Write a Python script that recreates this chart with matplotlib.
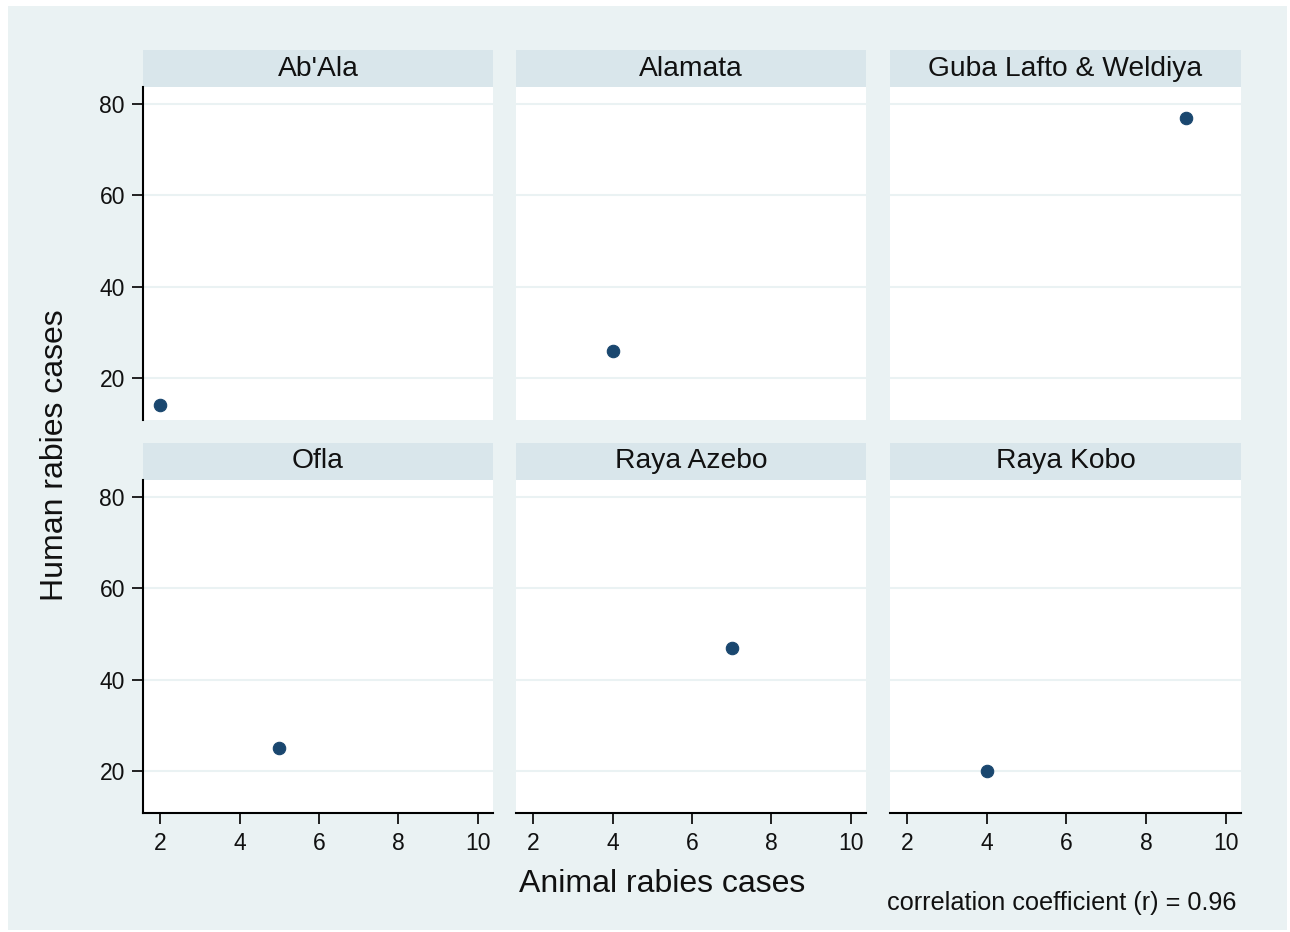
#!/usr/bin/env python3
"""Human vs animal rabies cases by district, Stata-style small multiples."""

import matplotlib
matplotlib.use("Agg")
import matplotlib.pyplot as plt
from matplotlib.patches import Rectangle

DISTRICTS = ["Ab'Ala", "Alamata", "Guba Lafto & Weldiya", "Ofla", "Raya Azebo", "Raya Kobo"]
ANIMAL_CASES = [2, 4, 9, 5, 7, 4]
HUMAN_CASES = [14, 26, 77, 25, 47, 20]
X_TICKS = [2, 4, 6, 8, 10]
Y_TICKS = [20, 40, 60, 80]

BG = "#EAF2F3"
STRIP = "#D9E6EB"
MARKER = "#1A476F"

W, H = 1290, 932
plt.rcParams.update({
    "font.family": ["Liberation Sans", "DejaVu Sans"],
    "xtick.labelsize": 16.5, "ytick.labelsize": 16.5,
    "xtick.major.size": 8, "ytick.major.size": 8,
    "xtick.major.width": 1.3, "ytick.major.width": 1.3,
    "xtick.color": "#111111", "ytick.color": "#111111",
})

fig = plt.figure(figsize=(W / 100, H / 100), dpi=100, facecolor="white")
fig.patches.append(Rectangle((8 / W, 1 - 930 / H), (1287 - 8) / W, (930 - 6) / H,
                             transform=fig.transFigure, facecolor=BG, edgecolor="none", zorder=-2))

cols = [(143, 493), (516, 866), (890, 1241)]
rows = [(50, 87, 420), (443, 480, 813)]

for i, name in enumerate(DISTRICTS):
    r, c = divmod(i, 3)
    x0, x1 = cols[c]
    strip_top, plot_top, plot_bot = rows[r]
    # strip header
    fig.patches.append(Rectangle((x0 / W, 1 - plot_top / H), (x1 - x0) / W, (plot_top - strip_top) / H,
                                 transform=fig.transFigure, facecolor=STRIP, edgecolor="none", zorder=-1))
    fig.text((x0 + x1) / 2 / W, 1 - (strip_top + plot_top) / 2 / H, name, ha="center", va="center",
             fontsize=20.3, color="#111111")
    ax = fig.add_axes([x0 / W, 1 - plot_bot / H, (x1 - x0) / W, (plot_bot - plot_top) / H], zorder=2)
    ax.set_facecolor("white")
    ax.set_xlim(1.57, 10.38)
    ax.set_ylim(10.8, 83.7)
    ax.set_yticks(Y_TICKS)
    ax.set_xticks(X_TICKS)
    ax.grid(axis="y", color=BG, linewidth=1.5)
    ax.set_axisbelow(True)
    for side in ("top", "right", "left", "bottom"):
        ax.spines[side].set_visible(False)
    if c == 0:
        ax.spines["left"].set_visible(True)
        ax.spines["left"].set_linewidth(1.5)
        ax.tick_params(axis="y", pad=5)
    else:
        ax.tick_params(axis="y", length=0, labelleft=False)
    if r == 1:
        ax.spines["bottom"].set_visible(True)
        ax.spines["bottom"].set_linewidth(1.5)
        ax.tick_params(axis="x", pad=6)
    else:
        ax.tick_params(axis="x", length=0, labelbottom=False)
    ax.scatter([ANIMAL_CASES[i]], [HUMAN_CASES[i]], s=80, color=MARKER, edgecolors=MARKER,
               linewidths=0.8, zorder=3, clip_on=False)

fig.text(662 / W, 1 - 884 / H, "Animal rabies cases", ha="center", va="center", fontsize=23, color="#111111")
fig.text(55 / W, 1 - 455 / H, "Human rabies cases", ha="center", va="center", rotation=90,
         fontsize=23, color="#111111")
fig.text(887 / W, 1 - 903 / H, "correlation coefficient (r) = 0.96", ha="left", va="center",
         fontsize=18.2, color="#111111")

fig.savefig("out.png", dpi=100, facecolor="white")
